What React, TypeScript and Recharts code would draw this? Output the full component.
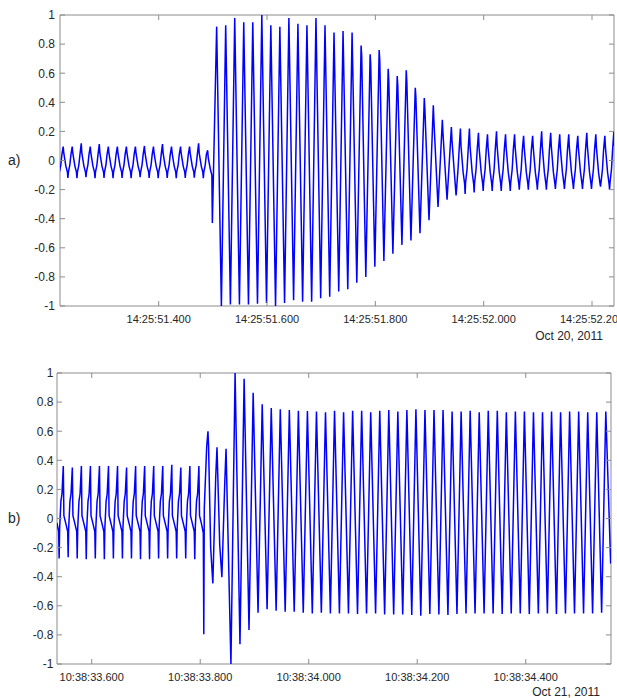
import { Line, LineChart, ReferenceArea, XAxis, YAxis } from "recharts";

// 60 Hz mains: one cycle every 16.67 ms
const PERIOD = 1000 / 60;
const _ = null;

// ---- panel a) 14:25:51, Oct 20 2011 (time in ms after 14:25:51.000) ----
const domainA: [number, number] = [217.8, 1240.6];
const ticksA = [400, 600, 800, 1000, 1200];
const tickLabelsA = ["14:25:51.400", "14:25:51.600", "14:25:51.800", "14:25:52.000", "14:25:52.200"];
const firstPeakA = 223.7;

// one entry per cycle, first entry is the partial cycle before the left edge
const peaksA = [
  _, 0.095, 0.095, 0.118, 0.095, 0.113, 0.095, 0.095, 0.095, 0.095, 0.1, 0.095, 0.113, 0.095, 0.095, 0.095, 0.118,
  0.07, 0.92, 0.93, 0.98, 0.95, 0.95, 1.0, 0.93, 0.92, 0.98, 0.94,
  0.93, 0.98, 0.93, 0.88, 0.89, 0.88, 0.79, 0.73, 0.76, 0.63, 0.58, 0.62, 0.5, 0.43, 0.38, 0.28, 0.23,
  0.22, 0.22, 0.19, 0.18, 0.2, 0.18, 0.18, 0.17, 0.17, 0.2, 0.19, 0.18, 0.18, 0.17, 0.19, 0.18, 0.17, 0.2,
];
const troughsA = [
  -0.12, -0.12, -0.122, -0.115, -0.122, -0.12, -0.122, -0.12, -0.122, -0.115, -0.12, -0.122, -0.12, -0.122, -0.12, -0.118, -0.122,
  -0.43, -1.0, -0.99, -0.99, -0.99, -0.985, -0.98, -1.0, -0.98, -0.96, -0.97,
  -0.97, -0.947, -0.936, -0.9, -0.885, -0.84, -0.8, -0.73, -0.69, -0.64, -0.58, -0.55, -0.5, -0.41, -0.32, -0.27, -0.24,
  -0.23, -0.22, -0.21, -0.21, -0.21, -0.21, -0.2, -0.2, -0.2, -0.2, -0.195, -0.195, -0.195, -0.195, -0.195, -0.18, -0.2, _,
];
const riseA = [
  _, -0.03, -0.03, -0.03, -0.03, -0.03, -0.03, -0.03, -0.03, -0.03, -0.03, -0.03, -0.03, -0.03, -0.03, -0.03, -0.03,
  -0.03, _, _, _, _, _, _, _, _, _, _,
  _, _, _, _, _, _, _, _, _, _, _, _, _, _, _, _, _,
  -0.06, -0.06, -0.06, -0.06, -0.06, -0.06, -0.06, -0.06, -0.06, -0.06, -0.06, -0.06, -0.06, -0.06, -0.06, -0.06, -0.06, -0.06,
];
const preA = [
  _, 0.04, 0.04, 0.04, 0.04, 0.04, 0.04, 0.04, 0.04, 0.04, 0.04, 0.04, 0.04, 0.04, 0.04, 0.04, 0.04,
  0.04, _, _, _, _, _, _, _, _, _, _,
  _, _, _, _, _, _, _, _, _, _, _, _, _, _, _, _, _,
  0.07, 0.07, 0.07, 0.07, 0.07, 0.07, 0.07, 0.07, 0.07, 0.07, 0.07, 0.07, 0.07, 0.07, 0.07, 0.07, 0.07, 0.07,
];
const postA = [
  _, 0.05, 0.05, 0.05, 0.05, 0.05, 0.05, 0.05, 0.05, 0.05, 0.05, 0.05, 0.05, 0.05, 0.05, 0.05, 0.05,
  0.02, _, _, _, _, _, _, _, _, _, _,
  _, _, _, _, _, _, 0.72, 0.66, 0.69, 0.55, 0.51, 0.54, 0.44, 0.35, 0.27, 0.19, 0.14,
  0.1, 0.1, 0.09, 0.09, 0.1, 0.09, 0.09, 0.09, 0.09, 0.1, 0.1, 0.09, 0.09, 0.09, 0.1, 0.09, 0.09, 0.1,
];
const midA = [
  -0.04, -0.04, -0.04, -0.04, -0.04, -0.04, -0.04, -0.04, -0.04, -0.04, -0.04, -0.04, -0.04, -0.04, -0.04, -0.04, -0.04,
  -0.06, _, _, _, _, _, _, _, _, _, _,
  _, _, _, _, _, _, _, _, _, _, _, _, _, _, _, -0.05, -0.06,
  -0.08, -0.08, -0.08, -0.08, -0.08, -0.08, -0.08, -0.08, -0.08, -0.08, -0.08, -0.08, -0.08, -0.08, -0.08, -0.08, -0.08, _,
];
const preTroughA = [
  -0.08, -0.08, -0.08, -0.08, -0.08, -0.08, -0.08, -0.08, -0.08, -0.08, -0.08, -0.08, -0.08, -0.08, -0.08, -0.08, -0.08,
  -0.1, _, _, _, _, _, _, _, _, _, _,
  _, _, _, _, _, _, _, _, _, _, _, _, _, _, _, _, _,
  -0.16, -0.16, -0.16, -0.16, -0.16, -0.16, -0.16, -0.16, -0.16, -0.16, -0.16, -0.16, -0.16, -0.16, -0.16, -0.16, -0.16, _,
];
const postTroughA = [
  -0.08, -0.08, -0.08, -0.08, -0.08, -0.08, -0.08, -0.08, -0.08, -0.08, -0.08, -0.08, -0.08, -0.08, -0.08, -0.08, -0.08,
  _, _, _, _, _, _, _, _, _, _, _,
  _, _, _, _, _, _, _, _, _, _, _, _, _, _, _, _, _,
  -0.15, -0.15, -0.15, -0.15, -0.15, -0.15, -0.15, -0.15, -0.15, -0.15, -0.15, -0.15, -0.15, -0.15, -0.15, -0.15, -0.15, _,
];

// ---- panel b) 10:38:33, Oct 21 2011 (time in ms after 10:38:33.000) ----
const domainB: [number, number] = [536.0, 1557.2];
const ticksB = [600, 800, 1000, 1200, 1400];
const tickLabelsB = ["10:38:33.600", "10:38:33.800", "10:38:34.000", "10:38:34.200", "10:38:34.400"];
const firstPeakB = 547.6;

const peaksB = [
  _, 0.36, 0.35, 0.36, 0.36, 0.36, 0.36, 0.36, 0.35, 0.36, 0.36, 0.36, 0.36, 0.37, 0.35, 0.36, 0.36,
  0.6, 0.49, 0.48, 1.0, 0.96, 0.865, 0.785, 0.76, 0.75, 0.745, 0.74,
  0.739, 0.735, 0.73, 0.74, 0.73, 0.74, 0.74, 0.73, 0.74, 0.745, 0.735, 0.745, 0.75, 0.745, 0.745, 0.745, 0.735,
  0.735, 0.74, 0.73, 0.74, 0.74, 0.73, 0.735, 0.735, 0.73, 0.73, 0.735, 0.73, 0.735, 0.735, 0.73, 0.73, 0.735,
];
const troughsB = [
  -0.274, -0.267, -0.274, -0.28, -0.274, -0.28, -0.274, -0.274, -0.274, -0.28, -0.28, -0.274, -0.274, -0.274, -0.274, -0.28,
  -0.796, -0.446, -0.404, -1.0, -0.865, -0.766, -0.647, -0.624, -0.634, -0.64, -0.64,
  -0.647, -0.652, -0.647, -0.652, -0.652, -0.652, -0.656, -0.652, -0.652, -0.659, -0.659, -0.659, -0.663, -0.668, -0.656, -0.659, -0.663,
  -0.656, -0.652, -0.652, -0.652, -0.652, -0.656, -0.652, -0.652, -0.656, -0.652, -0.652, -0.656, -0.652, -0.652, -0.652, -0.652, -0.647, -0.31,
];
const riseB = [
  _, 0.12, 0.12, 0.12, 0.12, 0.12, 0.12, 0.12, 0.12, 0.12, 0.12, 0.12, 0.12, 0.12, 0.12, 0.12, 0.12,
  _, _, _, _, _, _, _, _, _, _, _,
  _, _, _, _, _, _, _, _, _, _, _, _, _, _, _, _, _,
  _, _, _, _, _, _, _, _, _, _, _, _, _, _, _, _, _,
];
const preB = [
  _, 0.17, 0.17, 0.17, 0.17, 0.17, 0.17, 0.17, 0.17, 0.17, 0.17, 0.17, 0.17, 0.17, 0.17, 0.17, 0.17,
  0.49, 0.28, 0.24, _, _, _, _, _, _, _, _,
  _, _, _, _, _, _, _, _, _, _, _, _, _, _, _, _, _,
  _, _, _, _, _, _, _, _, _, _, _, _, _, _, _, _, _,
];
const postB = [
  _, 0.02, 0.02, 0.02, 0.02, 0.02, 0.02, 0.02, 0.02, 0.02, 0.02, 0.02, 0.02, 0.02, 0.02, 0.02, 0.02,
  0.5, _, _, _, _, _, _, _, _, _, _,
  _, _, _, _, _, _, _, _, _, _, _, _, _, _, _, _, _,
  _, _, _, _, _, _, _, _, _, _, _, _, _, _, _, _, _,
];
const midB = [
  -0.03, -0.04, -0.04, -0.04, -0.04, -0.04, -0.04, -0.04, -0.04, -0.04, -0.04, -0.04, -0.04, -0.04, -0.04, -0.04, -0.04,
  -0.2, -0.18, _, _, _, _, _, _, _, _, _,
  _, _, _, _, _, _, _, _, _, _, _, _, _, _, _, _, _,
  _, _, _, _, _, _, _, _, _, _, _, _, _, _, _, _, _,
];
const preTroughB = [
  -0.09, -0.09, -0.09, -0.09, -0.09, -0.09, -0.09, -0.09, -0.09, -0.09, -0.09, -0.09, -0.09, -0.09, -0.09, -0.09, -0.1,
  _, _, _, _, _, _, _, _, _, _, _,
  _, _, _, _, _, _, _, _, _, _, _, _, _, _, _, _, _,
  _, _, _, _, _, _, _, _, _, _, _, _, _, _, _, _, _,
];
const postTroughB = [
  -0.07, -0.07, -0.07, -0.07, -0.07, -0.07, -0.07, -0.07, -0.07, -0.07, -0.07, -0.07, -0.07, -0.07, -0.07, -0.07, 0.07,
  _, _, _, _, _, _, _, _, _, _, _,
  _, _, _, _, _, _, _, _, _, _, _, _, _, _, _, _, _,
  _, _, _, _, _, _, _, _, _, _, _, _, _, _, _, _, _,
];

const yTicks = [-1, -0.8, -0.6, -0.4, -0.2, 0, 0.2, 0.4, 0.6, 0.8, 1];
const yTickLabels = ["-1", "-0.8", "-0.6", "-0.4", "-0.2", "0", "0.2", "0.4", "0.6", "0.8", "1"];

type Row = (number | null)[];
type Pt = { t: number; v: number };

// turn the per-cycle readings into a time series (trough comes `lag` ms after the peak)
function buildWave(firstPeak: number, lag: number, rows: Row[]): Pt[] {
  const [rise, pre, peak, post, mid, preT, trough, postT] = rows;
  const pts: Pt[] = [];
  for (let i = 0; i < peak.length; i++) {
    const t = firstPeak + (i - 1) * PERIOD;
    const seq: [number, number | null][] = [
      [t - 4.4, rise[i]],
      [t - 2.4, pre[i]],
      [t, peak[i]],
      [t + 1.1, post[i]],
      [t + 5, mid[i]],
      [t + lag - 0.9, preT[i]],
      [t + lag, trough[i]],
      [t + lag + 0.9, postT[i]],
    ];
    for (const [x, v] of seq) {
      if (v !== null && v !== undefined) pts.push({ t: x, v });
    }
  }
  return pts;
}

const dataA = buildWave(firstPeakA, 8.7, [riseA, preA, peaksA, postA, midA, preTroughA, troughsA, postTroughA]);
const dataB = buildWave(firstPeakB, 9.0, [riseB, preB, peaksB, postB, midB, preTroughB, troughsB, postTroughB]);

const AXIS = "#8c8c8c";
const TEXT = "#262626";
const FONT = "'Liberation Sans', Arial, Helvetica, sans-serif";

function XTick(props: any) {
  const { x, y, plotH, label } = props;
  return (
    <g>
      <line x1={x} y1={y} x2={x} y2={y - 5} stroke={AXIS} />
      <line x1={x} y1={y - plotH} x2={x} y2={y - plotH + 5} stroke={AXIS} />
      <text x={x} y={y + 17} textAnchor="middle" fill={TEXT} fontSize={11} fontFamily={FONT}>
        {label}
      </text>
    </g>
  );
}

function YTick(props: any) {
  const { x, y, plotW, gap, label } = props;
  return (
    <g>
      <line x1={x} y1={y} x2={x + 5} y2={y} stroke={AXIS} />
      <line x1={x + plotW} y1={y} x2={x + plotW - 5} y2={y} stroke={AXIS} />
      <text x={x - gap} y={y + 4.3} textAnchor="end" fill={TEXT} fontSize={12} fontFamily={FONT}>
        {label}
      </text>
    </g>
  );
}

function DateLabel(props: any) {
  const { viewBox, text, dy } = props;
  if (!viewBox) return null;
  return (
    <text x={viewBox.x + viewBox.width - 11} y={viewBox.y + dy} textAnchor="end" fill={TEXT} fontSize={12} fontFamily={FONT}>
      {text}
    </text>
  );
}

type PanelProps = {
  y: number;
  height: number;
  top: number;
  bottom: number;
  left: number;
  right: number;
  gap: number;
  dateDy: number;
  tag: string;
  date: string;
  data: Pt[];
  domain: [number, number];
  ticks: number[];
  tickLabels: string[];
};

const WIDTH = 617;

function WavePanel(p: PanelProps) {
  const plotW = WIDTH - p.left - p.right;
  const plotH = p.height - p.top - p.bottom;
  return (
    <div style={{ position: "absolute", left: 0, top: p.y, width: WIDTH, height: p.height }}>
      <LineChart width={WIDTH} height={p.height} data={p.data} margin={{ top: p.top, right: p.right, bottom: 0, left: 0 }}>
        <ReferenceArea x1={p.domain[0]} x2={p.domain[1]} y1={-1} y2={1} fill="none" stroke={AXIS} strokeWidth={1} />
        <XAxis
          dataKey="t"
          type="number"
          domain={p.domain}
          allowDataOverflow
          ticks={p.ticks}
          interval={0}
          height={p.bottom}
          axisLine={false}
          tickLine={false}
          tickSize={0}
          tickMargin={0}
          tick={(tp: any) => (
            <XTick x={tp.x} y={tp.y} plotH={plotH} label={p.tickLabels[p.ticks.indexOf(tp.payload.value)]} />
          )}
          label={<DateLabel text={p.date} dy={p.dateDy} />}
        />
        <YAxis
          type="number"
          domain={[-1, 1]}
          allowDataOverflow
          ticks={yTicks}
          interval={0}
          width={p.left}
          axisLine={false}
          tickLine={false}
          tickSize={0}
          tickMargin={0}
          tick={(tp: any) => (
            <YTick x={tp.x} y={tp.y} plotW={plotW} gap={p.gap} label={yTickLabels[yTicks.indexOf(tp.payload.value)]} />
          )}
          label={{ value: p.tag, position: "insideLeft", offset: 8, fontSize: 14, fill: TEXT, fontFamily: FONT }}
        />
        <Line
          dataKey="v"
          type="linear"
          stroke="#0000ff"
          strokeWidth={1.5}
          dot={false}
          isAnimationActive={false}
        />
      </LineChart>
    </div>
  );
}

export default function App() {
  return (
    <div style={{ position: "absolute", left: 0, top: 0, width: WIDTH, height: 698, background: "#fff" }}>
      <WavePanel
        y={0}
        height={345}
        top={15}
        bottom={39}
        left={60}
        right={3}
        gap={5}
        dateDy={33.5}
        tag="a)"
        date="Oct 20, 2011"
        data={dataA}
        domain={domainA}
        ticks={ticksA}
        tickLabels={tickLabelsA}
      />
      <WavePanel
        y={345}
        height={353}
        top={28}
        bottom={34}
        left={57}
        right={6}
        gap={3.5}
        dateDy={31.5}
        tag="b)"
        date="Oct 21, 2011"
        data={dataB}
        domain={domainB}
        ticks={ticksB}
        tickLabels={tickLabelsB}
      />
    </div>
  );
}
